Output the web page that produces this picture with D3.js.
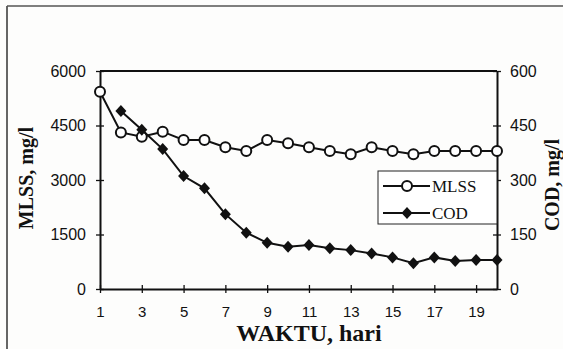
<!DOCTYPE html>
<html>
<head>
<meta charset="utf-8">
<script src="https://cdn.jsdelivr.net/npm/d3@7"></script>
<style>
  body { margin: 0; padding: 0; background: #fdfdfc; }
  svg { display: block; }
</style>
</head>
<body>
<div class="canvas"></div>
<script>
"use strict";

// hari (days)
const days = [1, 2, 3, 4, 5, 6, 7, 8, 9, 10, 11, 12, 13, 14, 15, 16, 17, 18, 19, 20];
// MLSS, mg/l (left axis)
const mlss = [5430, 4310, 4190, 4330, 4100, 4100, 3900, 3800, 4100, 4010,
              3900, 3800, 3710, 3900, 3800, 3710, 3800, 3800, 3800, 3800];
// COD, mg/l (right axis), no value on day 1
const cod = [null, 490, 438, 385, 311, 277, 206, 155, 127, 116,
             121, 112, 107, 98, 87, 71, 87, 77, 80, 80];

const xTicks = [1, 3, 5, 7, 9, 11, 13, 15, 17, 19];
const leftTicks = [0, 1500, 3000, 4500, 6000];
const rightTicks = [0, 150, 300, 450, 600];
const seriesNames = ["MLSS", "COD"];

const W = 563, H = 349;
const plotL = 100, plotR = 497, plotT = 71, plotB = 289;
const sans = "'Liberation Sans', Arial, sans-serif";
const serif = "'Liberation Serif', 'Times New Roman', serif";

const svg = d3.select(".canvas")
  .append("svg")
  .attr("width", W)
  .attr("height", H);

// page frame (scan edge)
svg.append("line")
  .attr("x1", 7).attr("x2", 7).attr("y1", 6).attr("y2", H)
  .attr("stroke", "#333").attr("stroke-width", 1.5);
svg.append("line")
  .attr("x1", 7).attr("x2", W).attr("y1", 6).attr("y2", 6)
  .attr("stroke", "#555").attr("stroke-width", 1.5);

const x = d3.scaleLinear().domain([1, 20]).range([plotL, plotR]);
const yL = d3.scaleLinear().domain([0, 6000]).range([plotB, plotT]);
const yR = d3.scaleLinear().domain([0, 600]).range([plotB, plotT]);

// plot frame top
svg.append("line")
  .attr("x1", plotL).attr("x2", plotR).attr("y1", plotT).attr("y2", plotT)
  .attr("stroke", "#111").attr("stroke-width", 2);

function styleAxis(g, size) {
  g.select(".domain").attr("stroke", "#111").attr("stroke-width", 2);
  g.selectAll(".tick line").attr("stroke", "#111").attr("stroke-width", 1.3);
  g.selectAll(".tick text")
    .attr("fill", "#111")
    .style("font-family", sans)
    .style("font-size", size + "px");
}

const gx = svg.append("g")
  .attr("transform", `translate(0,${plotB})`)
  .call(d3.axisBottom(x).tickValues(xTicks).tickSize(4).tickPadding(13).tickSizeOuter(0)
    .tickFormat(d3.format("d")));
gx.selectAll(".tick line").attr("y1", -4).attr("y2", 4);
styleAxis(gx, 15);

const gl = svg.append("g")
  .attr("transform", `translate(${plotL},0)`)
  .call(d3.axisLeft(yL).tickValues(leftTicks).tickSize(4).tickPadding(10).tickSizeOuter(0)
    .tickFormat(d3.format("d")));
gl.selectAll(".tick line").attr("x1", 4).attr("x2", -4);
styleAxis(gl, 16);

const gr = svg.append("g")
  .attr("transform", `translate(${plotR},0)`)
  .call(d3.axisRight(yR).tickValues(rightTicks).tickSize(4).tickPadding(9).tickSizeOuter(0)
    .tickFormat(d3.format("d")));
gr.selectAll(".tick line").attr("x1", -4).attr("x2", 4);
styleAxis(gr, 16);

// lines
const mlssData = days.map((d, i) => ({ d: d, v: mlss[i] }));
const codData = days.map((d, i) => ({ d: d, v: cod[i] })).filter(p => p.v != null);

const lineL = d3.line().x(p => x(p.d)).y(p => yL(p.v));
const lineR = d3.line().x(p => x(p.d)).y(p => yR(p.v));

const diamond = "M0,-6L5.5,0L0,6L-5.5,0Z";

svg.append("path")
  .datum(mlssData)
  .attr("d", lineL)
  .attr("fill", "none").attr("stroke", "#111").attr("stroke-width", 2);
svg.append("g").selectAll("circle")
  .data(mlssData)
  .join("circle")
  .attr("cx", p => x(p.d)).attr("cy", p => yL(p.v)).attr("r", 5)
  .attr("fill", "#fff").attr("stroke", "#111").attr("stroke-width", 2);

svg.append("path")
  .datum(codData)
  .attr("d", lineR)
  .attr("fill", "none").attr("stroke", "#111").attr("stroke-width", 2);
svg.append("g").selectAll("path")
  .data(codData)
  .join("path")
  .attr("d", diamond)
  .attr("transform", p => `translate(${x(p.d)},${yR(p.v)})`)
  .attr("fill", "#111");

// legend
const lg = svg.append("g").attr("transform", "translate(378,171)");
lg.append("rect")
  .attr("width", plotR - 378).attr("height", 53)
  .attr("fill", "#fff").attr("stroke", "#222").attr("stroke-width", 1);
seriesNames.forEach((name, i) => {
  const yy = 15 + i * 27;
  lg.append("line")
    .attr("x1", 5).attr("x2", 52).attr("y1", yy).attr("y2", yy)
    .attr("stroke", "#111").attr("stroke-width", 2);
  if (i === 0) {
    lg.append("circle").attr("cx", 29).attr("cy", yy).attr("r", 5)
      .attr("fill", "#fff").attr("stroke", "#111").attr("stroke-width", 2);
  } else {
    lg.append("path").attr("d", diamond)
      .attr("transform", `translate(29,${yy})`).attr("fill", "#111");
  }
  lg.append("text")
    .attr("x", 54).attr("y", yy + 6)
    .attr("fill", "#111")
    .style("font-family", serif).style("font-size", "17px")
    .text(name);
});

// axis titles
svg.append("text")
  .attr("transform", "translate(33,178) rotate(-90)")
  .attr("text-anchor", "middle")
  .attr("fill", "#111")
  .style("font-family", serif).style("font-size", "20px").style("font-weight", "bold")
  .text("MLSS, mg/l");

svg.append("text")
  .attr("transform", "translate(559,185) rotate(-90)")
  .attr("text-anchor", "middle")
  .attr("fill", "#111")
  .style("font-family", serif).style("font-size", "20px").style("font-weight", "bold")
  .text("COD, mg/l");

svg.append("text")
  .attr("x", 309).attr("y", 341)
  .attr("text-anchor", "middle")
  .attr("fill", "#111")
  .style("font-family", serif).style("font-size", "24px").style("font-weight", "bold")
  .text("WAKTU, hari");
</script>
</body>
</html>
